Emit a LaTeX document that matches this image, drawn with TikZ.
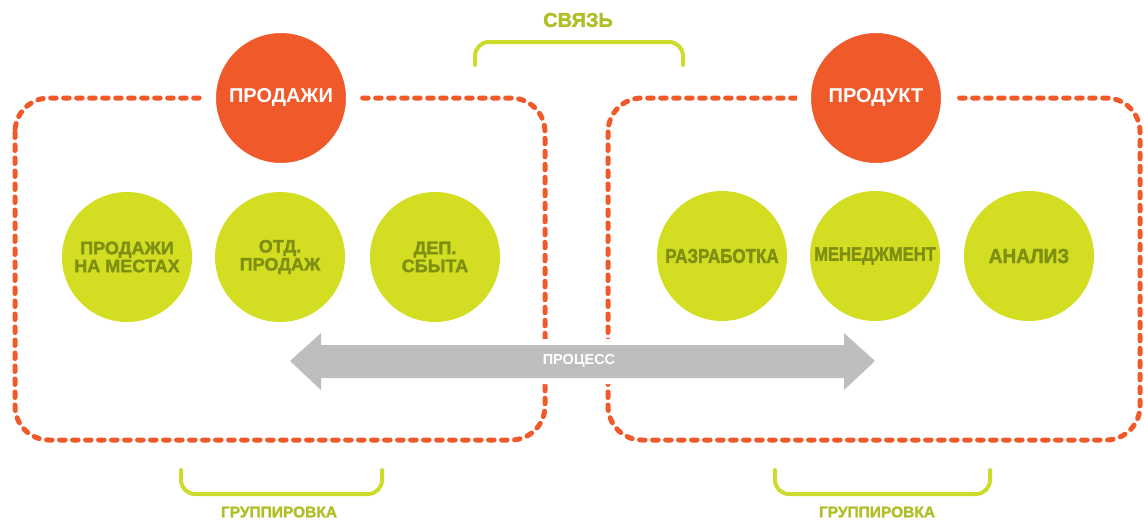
\documentclass[tikz,border=0pt]{standalone}
\usepackage{fontspec}
\setmainfont{Liberation Sans}
\newfontfamily\heavyfont[FakeBold=1.8]{Liberation Sans}
\newfontfamily\heavynarrow[FakeBold=1.8, FakeStretch=0.85]{Liberation Sans}
\newfontfamily\heavyslim[FakeBold=1.8, FakeStretch=0.93]{Liberation Sans}
\usetikzlibrary{positioning}
\definecolor{orng}{HTML}{F05A2B}
\definecolor{lime}{HTML}{D3DD22}
\definecolor{olive}{HTML}{7F8F12}
\definecolor{bracketgreen}{HTML}{CDDB2C}
\definecolor{labelgreen}{HTML}{B0BF28}
\definecolor{arrowgray}{HTML}{BEBEBE}
\tikzset{
  groupbox/.style={draw=orng, line width=5pt, line cap=round, dash pattern=on 5.5pt off 7.5pt, rounded corners=34pt},
  headcircle/.style={circle, fill=orng, draw=white, line width=14pt, minimum size=144pt, inner sep=0pt,
    text=white, font=\fontsize{20}{22}\selectfont\bfseries},
  unitcircle/.style={circle, fill=lime, minimum size=130pt, inner sep=0pt, align=center,
    text=olive, font=\heavyfont\fontsize{18}{18}\selectfont\bfseries},
  bracket/.style={draw=bracketgreen, line width=4pt, line cap=round, rounded corners=14pt},
  caption/.style={text=labelgreen, font=\heavyfont\fontsize{15.5}{17}\selectfont\bfseries},
}
\begin{document}
\begin{tikzpicture}[x=1pt,y=-1pt]
\useasboundingbox (0,0) rectangle (1144,522);
% group boxes
\draw[groupbox] (15,98) rectangle (545,440);
\draw[groupbox] (608,98) rectangle (1140,440);
% head circles
\node[headcircle] (sales) at (281,98) {ПРОДАЖИ};
\node[headcircle] (product) at (876,98) {ПРОДУКТ};
% unit circles
\node[unitcircle] (local) at (127,257) {ПРОДАЖИ\\НА МЕСТАХ};
\node[unitcircle] (dept) at (280,257) {ОТД.\\ПРОДАЖ};
\node[unitcircle] (dep) at (435,257) {ДЕП.\\СБЫТА};
\node[unitcircle, font=\heavynarrow\fontsize{20}{21}\selectfont\bfseries] (dev) at (722,256) {РАЗРАБОТКА};
\node[unitcircle, font=\heavynarrow\fontsize{19.5}{21}\selectfont\bfseries] (mgmt) at (875,256) {МЕНЕДЖМЕНТ};
\node[unitcircle, font=\heavyslim\fontsize{20.5}{22}\selectfont\bfseries] (anal) at (1029,256) {АНАЛИЗ};
% process arrow
\draw[white, line width=12pt, line join=round, fill=arrowgray]
  (290,361) -- (321,333) -- (321,345) -- (844,345) -- (844,333) -- (875,361)
  -- (844,390) -- (844,378) -- (321,378) -- (321,390) -- cycle;
\fill[arrowgray]
  (290,361) -- (321,333) -- (321,345) -- (844,345) -- (844,333) -- (875,361)
  -- (844,390) -- (844,378) -- (321,378) -- (321,390) -- cycle;
\node[text=white, font=\fontsize{14.5}{16}\selectfont\bfseries] (process) at (579,361) {ПРОЦЕСС};
% brackets
\coordinate (tl) at (475,65);
\coordinate (tr) at (683,65);
\draw[bracket] (tl) -- (475,42) -- (683,42) -- (tr);
\node[caption, font=\heavyfont\fontsize{20}{22}\selectfont\bfseries] (link) at (578,20) {СВЯЗЬ};
\coordinate (bl1) at (181,470);
\coordinate (br1) at (382,470);
\draw[bracket] (bl1) -- (181,494) -- (382,494) -- (br1);
\node[caption] (grp1) at (279,512) {ГРУППИРОВКА};
\coordinate (bl2) at (775,470);
\coordinate (br2) at (990,470);
\draw[bracket] (bl2) -- (775,494) -- (990,494) -- (br2);
\node[caption] (grp2) at (877,512) {ГРУППИРОВКА};
\end{tikzpicture}
\end{document}
